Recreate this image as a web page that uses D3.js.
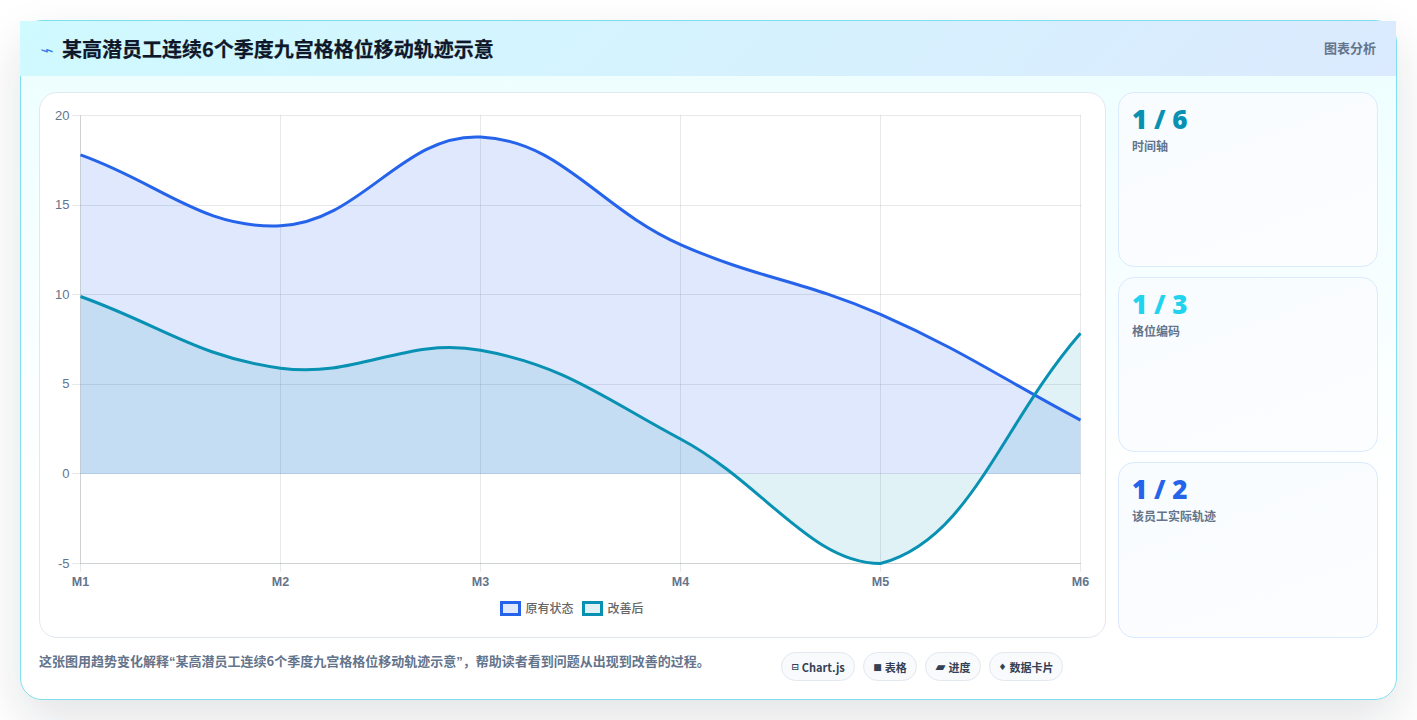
<!DOCTYPE html>
<html lang="zh-CN">
<head>
<meta charset="utf-8">
<title>九宫格格位移动轨迹</title>
<script src="https://cdn.jsdelivr.net/npm/d3@7/dist/d3.min.js"></script>
<style>
  * { box-sizing: border-box; }
  html, body { margin: 0; width: 1417px; height: 720px; overflow: hidden; background: #fff;
    font-family: "Noto Sans CJK SC", "Noto Sans", sans-serif; }
  .card { position: absolute; left: 20px; top: 20px; width: 1377px; height: 680px; border: 1px solid #7fdfee;
    border-radius: 22px; background: linear-gradient(180deg, #ecfeff 0%, #ffffff 70%);
    box-shadow: 0 20px 50px rgba(15, 23, 42, .12); }
  .head { position: absolute; left: -1px; top: 0; width: 1376px; height: 55px;
    background: linear-gradient(135deg, #cffafe, #dbeafe); }
  .title { position: absolute; left: 42px; top: 13px; font-size: 20px; line-height: 30px; font-weight: 700; color: #0f172a;
    white-space: nowrap; -webkit-text-stroke: .25px #0f172a; }
  .bolt { position: absolute; left: 20px; top: 15px; font-size: 24px; line-height: 26px; color: #2563eb;
    transform: scaleY(.6); font-weight: 400; opacity: .85; }
  .tag { position: absolute; right: 20px; top: 17px; font-size: 13px; line-height: 20px; font-weight: 700; color: #64748b; }
  .panel { position: absolute; left: 18px; top: 71px; width: 1067px; height: 546px; background: #fff;
    border: 1px solid #e2e8f0; border-radius: 18px; }
  .stat { position: absolute; left: 1097px; width: 260px; border: 1px solid #dbeafe; border-radius: 16px;
    padding: 10px 13px; background: linear-gradient(160deg, #f8fcff, #fcfdff); }
  .stat b { display: block; font-size: 26px; line-height: 32px; font-weight: 900; font-family: "Noto Sans", sans-serif; }
  .stat span { display: block; font-size: 12px; line-height: 18px; color: #64748b; font-weight: 700; margin-top: 2px; }
  .note { position: absolute; left: 18px; top: 630px; font-size: 13px; line-height: 20px; font-weight: 700; color: #64748b; white-space: nowrap; }
  .note i { font-style: normal; font-family: "Liberation Sans", sans-serif; }
  .chips { position: absolute; left: 760px; top: 631px; display: flex; gap: 8px; }
  .chip { height: 29px; border: 1px solid #e2e8f0; border-radius: 15px; background: #f8fafc;
    font-size: 11px; font-weight: 700; color: #334155; white-space: nowrap;
    display: flex; align-items: center; justify-content: center; gap: 3px; }
  .chip em { font-style: normal; font-size: 9px; font-family: "DejaVu Sans", sans-serif; }
  .chip:nth-child(3) em { font-size: 13px; line-height: 14px; }
  svg { position: absolute; left: 0; top: 0; }
</style>
</head>
<body>
<div class="card" id="card"></div>
<svg id="plot" width="1417" height="720"></svg>
<script>
// 季度标签与两条序列
const quarters = ["M1", "M2", "M3", "M4", "M5", "M6"];
const originalState = [17.8, 13.85, 18.8, 12.8, 8.9, 3];
const improved = [9.9, 5.9, 6.9, 1.95, -5, 7.85];
const yTicks = [-5, 0, 5, 10, 15, 20];
const seriesNames = ["原有状态", "改善后"];
const seriesColors = ["#2563eb", "#0891b2"];
const seriesFills = ["rgba(37,99,235,0.15)", "rgba(8,145,178,0.12)"];
const pageTitle = "某高潜员工连续6个季度九宫格格位移动轨迹示意";
const statValues = ["1 / 6", "1 / 3", "1 / 2"];
const statLabels = ["时间轴", "格位编码", "该员工实际轨迹"];
const statColors = ["#0891b2", "#22d3ee", "#2563eb"];
const chipIcons = ["⊟", "■", "▰", "♦"];
const chipLabels = ["Chart.js", "表格", "进度", "数据卡片"];
const chipWidths = [74, 54, 56, 74];

const card = d3.select("#card");
const head = card.append("div").attr("class", "head");
head.append("div").attr("class", "bolt").text("⌁");
head.append("div").attr("class", "title").text(pageTitle);
head.append("div").attr("class", "tag").text("图表分析");
card.append("div").attr("class", "panel");

const statTops = [71, 256, 441], statHeights = [175, 175, 176];
const stats = card.selectAll(".stat").data(statValues).join("div").attr("class", "stat")
  .style("top", (d, i) => statTops[i] + "px").style("height", (d, i) => statHeights[i] + "px");
stats.append("b").text(d => d).style("color", (d, i) => statColors[i]);
stats.append("span").text((d, i) => statLabels[i]);

const note = card.append("div").attr("class", "note");
note.append("span").text("这张图用趋势变化解释");
note.append("i").text("“");
note.append("span").text(pageTitle);
note.append("i").text("”");
note.append("span").text("，帮助读者看到问题从出现到改善的过程。");

const chips = card.append("div").attr("class", "chips").selectAll("div").data(chipLabels).join("div")
  .attr("class", "chip").style("width", (d, i) => chipWidths[i] + "px");
chips.append("em").text((d, i) => chipIcons[i]);
chips.append("span").text(d => d);

// 绘图区比例尺
const x = d3.scalePoint().domain(quarters).range([80.5, 1080.5]);
const y = d3.scaleLinear().domain([-5, 20]).range([563.5, 115.5]);
const snap = v => Math.floor(v) + 0.5;
const svg = d3.select("#plot");
const gridColor = "rgba(30,41,59,0.11)";

// 网格线，坐标轴边线叠画一层以加深
const grid = svg.append("g").attr("stroke", gridColor).attr("stroke-width", 1);
grid.selectAll(".gx").data(quarters).join("line").attr("class", "gx")
  .attr("x1", d => snap(x(d))).attr("x2", d => snap(x(d))).attr("y1", y(20)).attr("y2", y(-5) + 8);
grid.selectAll(".gy").data(yTicks).join("line").attr("class", "gy")
  .attr("x1", 72).attr("x2", 1081).attr("y1", d => snap(y(d))).attr("y2", d => snap(y(d)));
grid.append("line").attr("x1", x("M1")).attr("x2", x("M1")).attr("y1", y(20)).attr("y2", y(-5));
grid.append("line").attr("x1", x("M1")).attr("x2", x("M6")).attr("y1", snap(y(-5))).attr("y2", snap(y(-5)));

// 三次贝塞尔控制点：相邻点距离加权，张力 0.4，并限制在绘图区之内
function smoothPath(values, closeToZero) {
  const pts = values.map((v, i) => [x(quarters[i]), y(v)]);
  const capX = v => Math.max(x("M1"), Math.min(x("M6"), v));
  const capY = v => Math.max(y(20), Math.min(y(-5), v));
  const t = 0.4, ctrl = pts.map((p, i) => {
    const a = pts[Math.max(i - 1, 0)], b = pts[Math.min(i + 1, pts.length - 1)];
    const d01 = Math.hypot(p[0] - a[0], p[1] - a[1]), d12 = Math.hypot(b[0] - p[0], b[1] - p[1]);
    const s01 = d01 / (d01 + d12) || 0, s12 = d12 / (d01 + d12) || 0;
    return {
      prev: [capX(p[0] - t * s01 * (b[0] - a[0])), capY(p[1] - t * s01 * (b[1] - a[1]))],
      next: [capX(p[0] + t * s12 * (b[0] - a[0])), capY(p[1] + t * s12 * (b[1] - a[1]))]
    };
  });
  const path = d3.path();
  path.moveTo(pts[0][0], pts[0][1]);
  for (let i = 1; i < pts.length; i++) {
    path.bezierCurveTo(ctrl[i - 1].next[0], ctrl[i - 1].next[1], ctrl[i].prev[0], ctrl[i].prev[1], pts[i][0], pts[i][1]);
  }
  if (closeToZero) {
    path.lineTo(pts[pts.length - 1][0], y(0));
    path.lineTo(pts[0][0], y(0));
    path.closePath();
  }
  return path.toString();
}

// 线条的裁剪范围比绘图区多出半个线宽
const defs = svg.append("defs");
defs.append("clipPath").attr("id", "area-clip").append("rect")
  .attr("x", x("M1")).attr("y", y(20)).attr("width", x("M6") - x("M1")).attr("height", y(-5) - y(20));
defs.append("clipPath").attr("id", "line-clip").append("rect")
  .attr("x", x("M1") - 1.5).attr("y", y(20) - 1.5).attr("width", x("M6") - x("M1") + 3).attr("height", y(-5) - y(20) + 3);

const fills = svg.append("g").attr("clip-path", "url(#area-clip)");
const lines = svg.append("g").attr("clip-path", "url(#line-clip)");
[originalState, improved].forEach((vals, i) => {
  fills.append("path").attr("d", smoothPath(vals, true)).attr("fill", seriesFills[i]);
  lines.append("path").attr("d", smoothPath(vals, false)).attr("fill", "none")
    .attr("stroke", seriesColors[i]).attr("stroke-width", 3);
});

// 坐标轴文字
const axisFont = "Liberation Sans, Arial, sans-serif";
svg.append("g").selectAll("text").data(yTicks).join("text")
  .attr("x", 69.5).attr("y", d => y(d) + 4).attr("text-anchor", "end")
  .attr("font-family", axisFont).attr("font-size", 13).attr("fill", "#64748b").text(d => d);
svg.append("g").selectAll("text").data(quarters).join("text")
  .attr("x", d => x(d)).attr("y", 586).attr("text-anchor", "middle")
  .attr("font-family", axisFont).attr("font-size", 12.5).attr("font-weight", 700).attr("fill", "#64748b").text(d => d);

// 图例
const legendX = [500, 582];
const legend = svg.append("g").selectAll("g").data(seriesNames).join("g")
  .attr("transform", (d, i) => `translate(${legendX[i]},601)`);
legend.append("rect").attr("x", 1.5).attr("y", 1.5).attr("width", 18).attr("height", 12)
  .attr("fill", (d, i) => seriesFills[i]).attr("stroke", (d, i) => seriesColors[i]).attr("stroke-width", 3);
legend.append("text").attr("x", 25.5).attr("y", 11.5).attr("font-size", 12).attr("font-weight", 500)
  .attr("fill", "#666").text(d => d);
</script>
</body>
</html>
